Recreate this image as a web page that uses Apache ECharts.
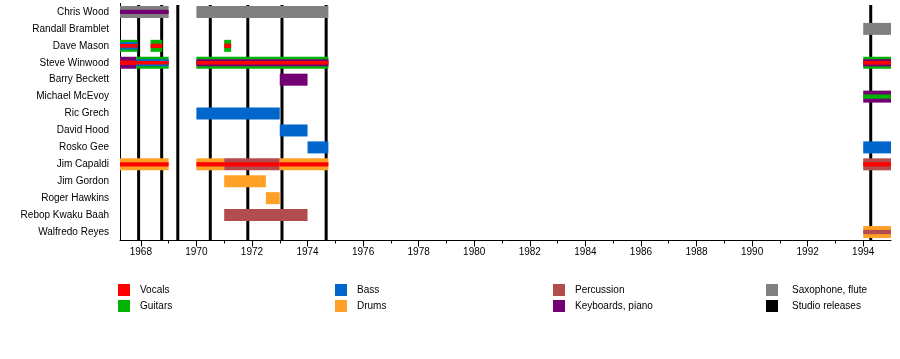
<!DOCTYPE html>
<html>
<head>
<meta charset="utf-8">
<script src="https://cdn.jsdelivr.net/npm/echarts@6.0.0/dist/echarts.min.js"></script>
<style>
  html, body { margin: 0; padding: 0; background: #fff; }
  #chart { width: 900px; height: 359px; }
</style>
</head>
<body>
<div id="chart"></div>
<script>
// ---------------- data ----------------
const members = [
  'Chris Wood', 'Randall Bramblet', 'Dave Mason', 'Steve Winwood', 'Barry Beckett',
  'Michael McEvoy', 'Ric Grech', 'David Hood', 'Rosko Gee', 'Jim Capaldi',
  'Jim Gordon', 'Roger Hawkins', 'Rebop Kwaku Baah', 'Walfredo Reyes'
];

const roles = ['Vocals', 'Guitars', 'Bass', 'Drums', 'Percussion', 'Keyboards, piano', 'Saxophone, flute', 'Studio releases'];
const roleColors = ['#ff0000', '#00b300', '#0066cc', '#ffa126', '#b34d4d', '#730073', '#808080', '#000000'];

// studio album release dates (decimal years)
const releases = [1967.92, 1968.75, 1969.33, 1970.5, 1971.85, 1973.08, 1974.67, 1994.27];

// [member, start, end, roles from outer to inner]
const periods = [
  ['Chris Wood', 1967.25, 1969.0, ['Saxophone, flute', 'Keyboards, piano']],
  ['Chris Wood', 1970.0, 1974.75, ['Saxophone, flute']],
  ['Randall Bramblet', 1994.0, 1995.0, ['Saxophone, flute']],
  ['Dave Mason', 1967.25, 1967.88, ['Guitars', 'Bass', 'Vocals']],
  ['Dave Mason', 1968.35, 1968.77, ['Guitars', 'Vocals']],
  ['Dave Mason', 1971.0, 1971.25, ['Guitars', 'Vocals']],
  ['Steve Winwood', 1967.25, 1967.83, ['Keyboards, piano', 'Vocals']],
  ['Steve Winwood', 1967.83, 1969.0, ['Guitars', 'Bass', 'Vocals']],
  ['Steve Winwood', 1970.0, 1974.75, ['Guitars', 'Keyboards, piano', 'Vocals']],
  ['Steve Winwood', 1994.0, 1995.0, ['Guitars', 'Keyboards, piano', 'Vocals']],
  ['Barry Beckett', 1973.0, 1974.0, ['Keyboards, piano']],
  ['Michael McEvoy', 1994.0, 1995.0, ['Keyboards, piano', 'Guitars']],
  ['Ric Grech', 1970.0, 1973.0, ['Bass']],
  ['David Hood', 1973.0, 1974.0, ['Bass']],
  ['Rosko Gee', 1974.0, 1974.75, ['Bass']],
  ['Rosko Gee', 1994.0, 1995.0, ['Bass']],
  ['Jim Capaldi', 1967.25, 1969.0, ['Drums', 'Vocals']],
  ['Jim Capaldi', 1970.0, 1971.0, ['Drums', 'Vocals']],
  ['Jim Capaldi', 1971.0, 1973.0, ['Percussion', 'Vocals']],
  ['Jim Capaldi', 1973.0, 1974.75, ['Drums', 'Vocals']],
  ['Jim Capaldi', 1994.0, 1995.0, ['Percussion', 'Vocals']],
  ['Jim Gordon', 1971.0, 1972.5, ['Drums']],
  ['Roger Hawkins', 1972.5, 1973.0, ['Drums']],
  ['Rebop Kwaku Baah', 1971.0, 1974.0, ['Percussion']],
  ['Walfredo Reyes', 1994.0, 1995.0, ['Drums', 'Percussion']]
];

const yearMin = 1967.25;
const yearMax = 1995;
const majorTicks = [1968, 1970, 1972, 1974, 1976, 1978, 1980, 1982, 1984, 1986, 1988, 1990, 1992, 1994];
const minorTicks = [1969, 1971, 1973, 1975, 1977, 1979, 1981, 1983, 1985, 1987, 1989, 1991, 1993];

// ---------------- chart ----------------
const FONT = '"Liberation Sans", Arial, sans-serif';
const colorOf = r => roleColors[roles.indexOf(r)];
const BAR_H = 12;

function renderBar(params, api) {
  const row = api.value(0);
  const p = periods[api.value(3)];
  const a = api.coord([api.value(1), row]);
  const b = api.coord([api.value(2), row]);
  const layers = p[3];
  const fr = layers.length === 3 ? [1, 0.6, 0.3] : [1, 0.36];
  const children = layers.map((r, i) => {
    const hh = BAR_H * fr[i];
    return {
      type: 'rect',
      shape: { x: a[0], y: a[1] - hh / 2, width: b[0] - a[0], height: hh },
      style: { fill: colorOf(r) }
    };
  });
  return { type: 'group', children };
}

function renderRelease(params, api) {
  const x = api.coord([api.value(0), 0])[0];
  const cs = params.coordSys;
  return {
    type: 'rect',
    shape: { x: x - 1.5, y: cs.y + 1.5, width: 3, height: cs.height - 1.5 },
    style: { fill: '#000' }
  };
}

// legend built from role arrays
const legendCols = [118, 335, 553, 766];
const legendRows = [284, 300];
const legendGraphics = [];
roles.forEach((r, i) => {
  const col = Math.floor(i / 2), row = i % 2;
  const x = legendCols[col], y = legendRows[row];
  legendGraphics.push({ type: 'rect', left: x, top: y, shape: { width: 12, height: 12 }, style: { fill: roleColors[i] } });
  legendGraphics.push({ type: 'text', left: x + (col === 3 ? 26 : 22), top: y + 1, style: { text: r, fill: '#000', font: '10px ' + FONT } });
});

const chart = echarts.init(document.getElementById('chart'), null, { renderer: 'canvas' });
chart.setOption({
  animation: false,
  backgroundColor: '#fff',
  textStyle: { fontFamily: FONT },
  grid: { left: 120, right: 9, top: 3.5, height: 237, containLabel: false },
  xAxis: [
    {
      type: 'value', min: yearMin, max: yearMax,
      axisLine: { show: true, onZero: false, lineStyle: { color: '#000', width: 1 } },
      axisTick: { show: true, length: 6, lineStyle: { color: '#000' }, customValues: majorTicks },
      axisLabel: { show: true, customValues: majorTicks, color: '#000', fontSize: 10, fontFamily: FONT, margin: 7, formatter: v => String(v) },
      splitLine: { show: false }
    },
    {
      type: 'value', min: yearMin, max: yearMax, position: 'bottom',
      axisLine: { show: false },
      axisTick: { show: true, length: 3, lineStyle: { color: '#000' }, customValues: minorTicks },
      axisLabel: { show: false },
      splitLine: { show: false }
    }
  ],
  yAxis: {
    type: 'category', data: members, inverse: true,
    axisLine: { show: true, lineStyle: { color: '#000', width: 1 } },
    axisTick: { show: false },
    axisLabel: { color: '#000', fontSize: 10, fontFamily: FONT, margin: 11 },
    splitLine: { show: false }
  },
  series: [
    {
      type: 'custom', name: 'Studio releases', xAxisIndex: 0,
      renderItem: renderRelease,
      data: releases.map(r => [r]),
      encode: { x: 0 },
      z: 1
    },
    {
      type: 'custom', name: 'members', xAxisIndex: 0,
      renderItem: renderBar,
      data: periods.map((p, i) => [members.indexOf(p[0]), p[1], p[2], i]),
      encode: { y: 0, x: [1, 2] },
      z: 2
    }
  ],
  graphic: legendGraphics
});
</script>
</body>
</html>
